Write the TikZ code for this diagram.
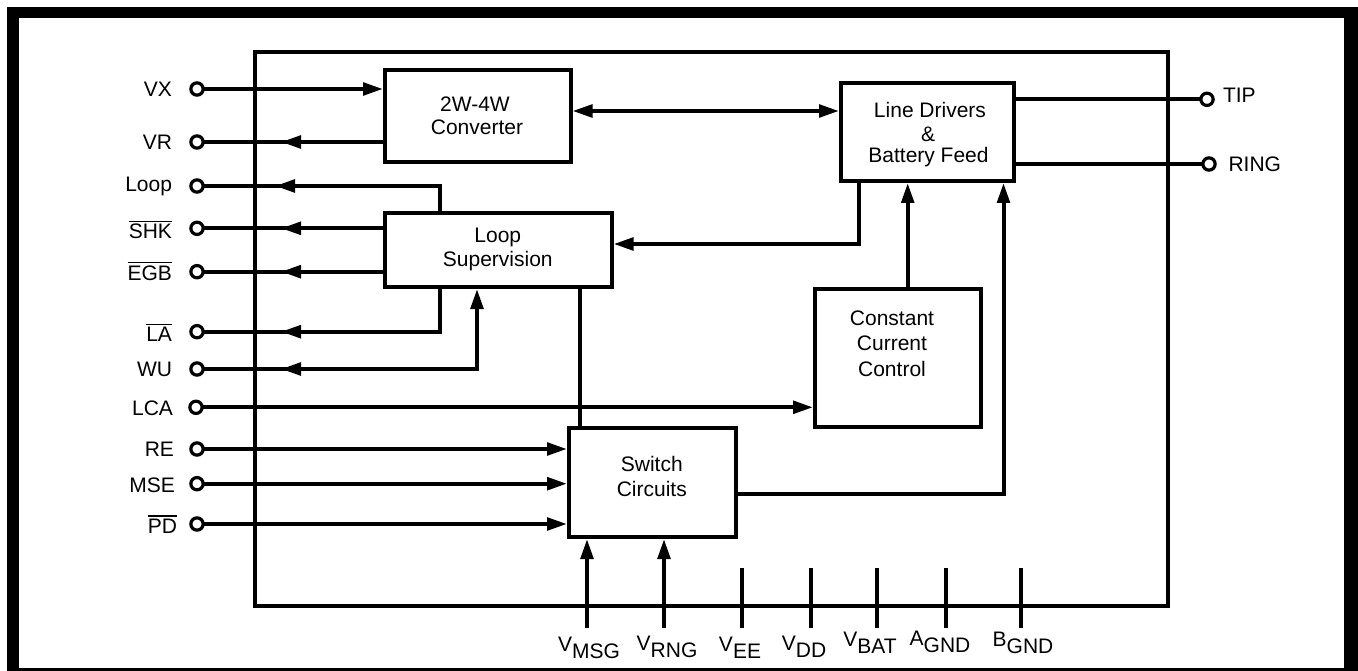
\documentclass[tikz,border=0pt]{standalone}
\usepackage{fontspec}
\setmainfont{Liberation Sans}
\usetikzlibrary{arrows.meta,calc}
\newcommand{\ovl}[1]{\vbox{\hrule height 1.5pt\kern 2pt\hbox{#1}}}
\newcommand{\subl}[2]{#1\raisebox{-7pt}{#2}}
\begin{document}
\begin{tikzpicture}[x=1pt,y=-1pt,
  every node/.style={font=\fontsize{21}{25}\selectfont, inner sep=0pt, outer sep=0pt},
  blk/.style={draw, line width=4pt, rectangle, outer sep=2pt},
  pinc/.style={draw, circle, line width=3.2pt, minimum size=12.3pt, fill=white},
  wire/.style={line width=4pt},
  arr/.style={line width=4pt, -{Triangle[length=20pt,width=12.5pt]}},
  darr/.style={line width=4pt, {Triangle[length=20pt,width=12.5pt]}-{Triangle[length=20pt,width=12.5pt]}},
  lbl/.style={anchor=base east},
  txt/.style={anchor=base}
]
\useasboundingbox (0,0) rectangle (1358,671);
% outer frame
\fill[black] (6.7,6.7) rectangle (1358,18.3);
\fill[black] (6.7,6.7) rectangle (18.7,671);
\fill[black] (1344,6.7) rectangle (1358,671);
\fill[black] (6.7,668.3) rectangle (1358,670.8);

% chip outline
\node[blk, minimum width=913.1pt, minimum height=554pt] (chip) at (711.05,328.7) {};

% blocks
\node[blk, minimum width=185.5pt, minimum height=92pt] (conv) at (477.75,116) {};
\node[blk, minimum width=173pt, minimum height=98pt] (ld) at (927.5,132) {};
\node[blk, minimum width=226.6pt, minimum height=74pt] (ls) at (498.3,250) {};
\node[blk, minimum width=166pt, minimum height=138pt] (ccc) at (898,358) {};
\node[blk, minimum width=167pt, minimum height=109pt] (sw) at (652.5,482.5) {};

% block texts
\node[txt] (tconv1) at (475,111.7) {2W-4W};
\node[txt] (tconv2) at (477,135) {Converter};
\node[txt] (tld1) at (930,118) {Line Drivers};
\node[txt] (tld2) at (928,142) {\&};
\node[txt] (tld3) at (928.5,162.5) {Battery Feed};
\node[txt] (tls1) at (497.8,243) {Loop};
\node[txt] (tls2) at (497.8,266.7) {Supervision};
\node[txt] (tcc1) at (892,325) {Constant};
\node[txt] (tcc2) at (892,350) {Current};
\node[txt] (tcc3) at (892,376) {Control};
\node[txt] (tsw1) at (651.8,471.7) {Switch};
\node[txt] (tsw2) at (651.8,496.7) {Circuits};

% helper coordinates
\coordinate (xa) at (440,0);
\coordinate (xw) at (477,0);
\coordinate (xs) at (580,0);
\coordinate (xl) at (859,0);
\coordinate (xc) at (907.7,0);
\coordinate (xr) at (1003.5,0);
\coordinate (yb) at (0,111);
\coordinate (yl) at (0,244);
\coordinate (ys) at (0,494);
\coordinate (tipx) at (281,0);
\coordinate (tipl) at (275,0);

% left pins
\node[pinc] (vx) at (197,89) {};
\node[pinc] (vr) at (197,142) {};
\node[pinc] (loop) at (197,186) {};
\node[pinc] (shk) at (197,228.3) {};
\node[pinc] (egb) at (197,271.7) {};
\node[pinc] (la) at (197,331.7) {};
\node[pinc] (wu) at (197,369) {};
\node[pinc] (lca) at (196,407.3) {};
\node[pinc] (re) at (197,449) {};
\node[pinc] (mse) at (197,483.7) {};
\node[pinc] (pd) at (197,524) {};

\node[lbl] (lvx) at (172,96.5) {VX};
\node[lbl] (lvr) at (172,149.5) {VR};
\node[lbl] (lloop) at (172,191.7) {Loop};
\node[lbl] (lshk) at (172,238.7) {\ovl{SHK}};
\node[lbl] (legb) at (172,280) {\ovl{EGB}};
\node[lbl] (lla) at (172,341.7) {\ovl{LA}};
\node[lbl] (lwu) at (172,376.3) {WU};
\node[lbl] (llca) at (173,415) {LCA};
\node[lbl] (lre) at (174,456.3) {RE};
\node[lbl] (lmse) at (175,492) {MSE};
\node[lbl] (lpd) at (177,533) {\ovl{PD}};

% right pins
\node[pinc] (tip) at (1207,99.3) {};
\node[pinc] (ring) at (1209,164) {};
\node[anchor=base west] (ltip) at (1223,103) {TIP};
\node[anchor=base west] (lring) at (1228.5,172) {RING};

% bottom pins
\coordinate (bmsg) at (587,628);
\coordinate (brng) at (664,628);
\coordinate (bee1) at (741.8,568); \coordinate (bee2) at (741.8,628);
\coordinate (bdd1) at (810.5,568); \coordinate (bdd2) at (810.5,628);
\coordinate (bbat1) at (877,568); \coordinate (bbat2) at (877,628);
\coordinate (bag1) at (946,568); \coordinate (bag2) at (946,628);
\coordinate (bbg1) at (1020.7,568); \coordinate (bbg2) at (1020.7,628);

\node[txt] (lmsg) at (589,651.7) {\subl{V}{MSG}};
\node[txt] (lrng) at (667,650) {\subl{V}{RNG}};
\node[txt] (lee) at (740,651.7) {\subl{V}{EE}};
\node[txt] (ldd) at (804,650.7) {\subl{V}{DD}};
\node[txt] (lbat) at (870,646.7) {\subl{V}{BAT}};
\node[txt] (lag) at (940,645) {\subl{A}{GND}};
\node[txt] (lbg) at (1023,646.7) {\subl{B}{GND}};

% connectors
\draw[arr] (vx) -- (vx -| conv.west);
\draw[wire] (vr -| conv.west) -- (vr);
\draw[arr] (vr -| conv.west) -- (vr -| tipx);
\draw[wire] (ls.north -| xa) |- (loop);
\draw[arr] (ls.north -| xa) |- (loop -| tipl);
\draw[wire] (shk -| ls.west) -- (shk);
\draw[arr] (shk -| ls.west) -- (shk -| tipx);
\draw[wire] (egb -| ls.west) -- (egb);
\draw[arr] (egb -| ls.west) -- (egb -| tipx);
\draw[wire] (ls.south -| xa) |- (la);
\draw[arr] (ls.south -| xa) |- (la -| tipx);
\draw[arr] (wu) -| (ls.south -| xw);
\draw[arr] (wu -| xw) -- (wu -| tipx);
\draw[arr] (lca) -- (lca -| ccc.west);
\draw[arr] (re) -- (re -| sw.west);
\draw[arr] (mse) -- (mse -| sw.west);
\draw[arr] (pd) -- (pd -| sw.west);
\draw[wire] (ls.south -| xs) -- (sw.north -| xs);
\draw[darr] (conv.east |- yb) -- (ld.west |- yb);
\draw[arr] (ld.south -| xl) |- (ls.east |- yl);
\draw[arr] (ccc.north -| xc) -- (ld.south -| xc);
\draw[arr] (sw.east |- ys) -| (ld.south -| xr);
\draw[wire] (ld.east |- tip) -- (tip);
\draw[wire] (ld.east |- ring) -- (ring);
\draw[arr] (bmsg) -- (sw.south -| bmsg);
\draw[arr] (brng) -- (sw.south -| brng);
\draw[wire] (bee1) -- (bee2);
\draw[wire] (bdd1) -- (bdd2);
\draw[wire] (bbat1) -- (bbat2);
\draw[wire] (bag1) -- (bag2);
\draw[wire] (bbg1) -- (bbg2);
\end{tikzpicture}
\end{document}
